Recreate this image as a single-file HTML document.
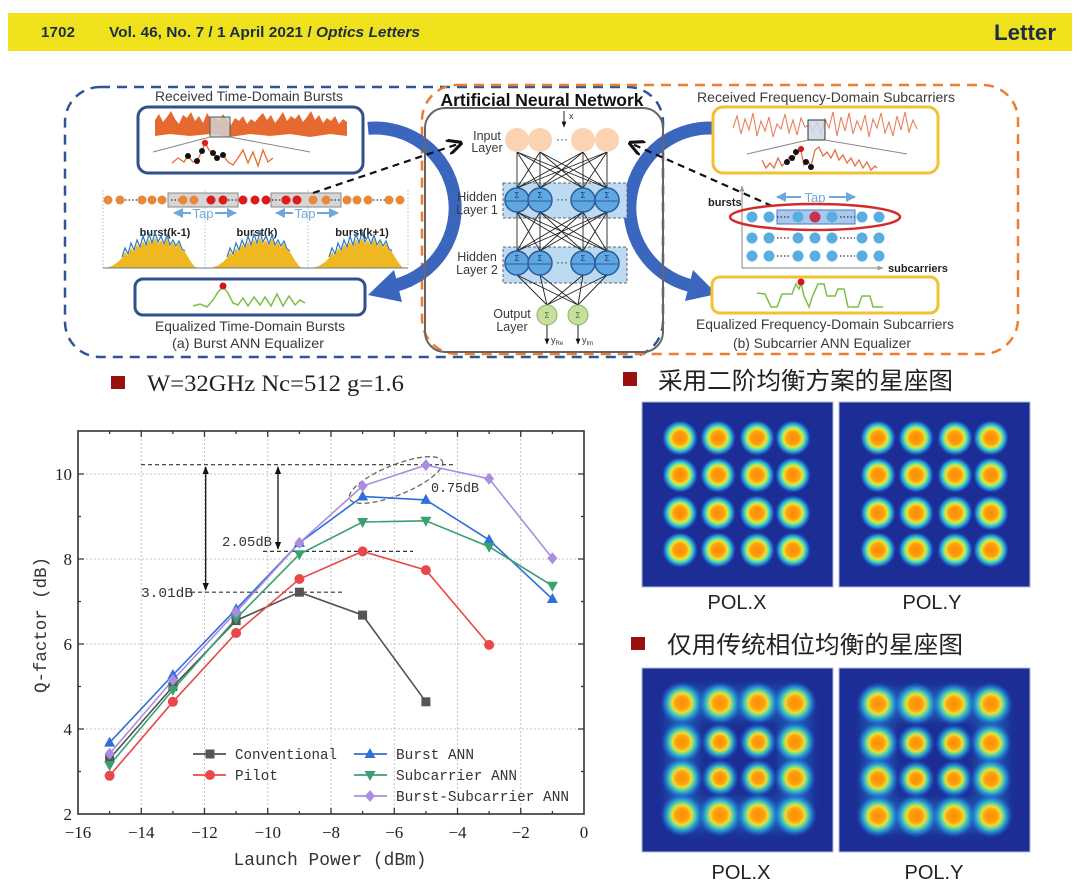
<!DOCTYPE html>
<html><head><meta charset="utf-8">
<style>
html,body{margin:0;padding:0;background:#fff;}
svg{display:block;}
</style></head><body>
<svg width="1080" height="892" viewBox="0 0 1080 892" xmlns="http://www.w3.org/2000/svg" font-family="'Liberation Sans', sans-serif">
<defs>
  <radialGradient id="b1">
    <stop offset="0" stop-color="#ff8800"/>
    <stop offset="0.36" stop-color="#ffa010"/>
    <stop offset="0.52" stop-color="#e8e632"/>
    <stop offset="0.66" stop-color="#58e0b0"/>
    <stop offset="0.82" stop-color="#28a8e8" stop-opacity="0.75"/>
    <stop offset="1" stop-color="#2050d0" stop-opacity="0"/>
  </radialGradient>
  <radialGradient id="b2">
    <stop offset="0" stop-color="#ff8c00"/>
    <stop offset="0.3" stop-color="#ffa010"/>
    <stop offset="0.45" stop-color="#e6e236"/>
    <stop offset="0.6" stop-color="#58dcb0" stop-opacity="0.9"/>
    <stop offset="0.78" stop-color="#24a4e4" stop-opacity="0.6"/>
    <stop offset="1" stop-color="#2050d0" stop-opacity="0"/>
  </radialGradient>
  <filter id="blur" x="-50%" y="-50%" width="200%" height="200%"><feGaussianBlur stdDeviation="5"/></filter>
  <marker id="mb" viewBox="0 0 10 10" refX="9" refY="5" markerWidth="5" markerHeight="5" orient="auto-start-reverse"><path d="M0,0 L10,5 L0,10 z" fill="#6fa8dc"/></marker>
  <marker id="mk" viewBox="0 0 10 10" refX="9" refY="5" markerWidth="6" markerHeight="6" orient="auto-start-reverse"><path d="M0,1 L10,5 L0,9 z" fill="#111"/></marker>
  <marker id="mg" viewBox="0 0 10 10" refX="9" refY="5" markerWidth="5" markerHeight="5" orient="auto-start-reverse"><path d="M0,1 L10,5 L0,9 z" fill="#999"/></marker>
  <marker id="mo" viewBox="0 0 10 10" refX="9" refY="5" markerWidth="7" markerHeight="7" orient="auto"><path d="M0,0 L10,5 L0,10" fill="none" stroke="#111" stroke-width="2"/></marker>
</defs>

<!-- HEADER -->
<rect x="8" y="13" width="1064" height="38" fill="#efe21c"/>
<text x="41" y="37" font-size="15" font-weight="bold" fill="#1d2d44" textLength="34">1702</text>
<text x="109" y="37" font-size="15" font-weight="bold" fill="#1d2d44" textLength="311" lengthAdjust="spacingAndGlyphs">Vol. 46, No. 7 / 1 April 2021 / <tspan font-style="italic">Optics Letters</tspan></text>
<text x="994" y="40" font-size="22" font-weight="bold" fill="#1d2d44" textLength="62" lengthAdjust="spacingAndGlyphs">Letter</text>

<!-- DIAGRAM dashed frames -->
<rect x="65" y="87" width="598" height="270" rx="35" fill="none" stroke="#2f5597" stroke-width="2.5" stroke-dasharray="10 7"/>
<rect x="422" y="85" width="596" height="269" rx="35" fill="none" stroke="#ed7d31" stroke-width="2.5" stroke-dasharray="10 7"/>

<!-- big blue arcs -->
<path d="M368,128.3 A80,80 0 0 1 395.7,285.3" fill="none" stroke="#3a66bd" stroke-width="13"/>
<polygon points="402,302 394,270 368,295" fill="#3a66bd"/>
<path d="M717,128.3 A80,80 0 0 0 689.3,285.3" fill="none" stroke="#3a66bd" stroke-width="13"/>
<polygon points="685,301 693,270 717,294" fill="#3a66bd"/>

<!-- LEFT PANEL -->
<text x="249" y="101" font-size="14" fill="#3a3a3a" text-anchor="middle" textLength="188" lengthAdjust="spacingAndGlyphs">Received Time-Domain Bursts</text>
<rect x="138" y="107" width="225" height="66" rx="10" fill="#fff" stroke="#2f4f8f" stroke-width="3"/>
<polygon fill="#e66a30" points="155,120 159,114 163,122 167,117 171,111 175,119 179,124 183,115 187,118 191,112 195,121 199,116 203,123 207,113 211,119 215,117 219,122 223,114 227,120 231,125 235,118 239,121 243,116 247,124 251,119 255,122 259,117 263,113 267,120 271,115 275,123 279,118 283,112 287,121 291,116 295,119 299,114 303,122 307,117 311,111 315,120 319,115 323,123 327,118 331,121 335,116 339,124 343,119 347,122 347,136 330,134 310,137 290,134 270,136 250,134 230,137 210,134 190,136 170,134 155,136"/>
<rect x="210" y="117" width="20" height="20" fill="#d0d0d0" fill-opacity="0.85" stroke="#555" stroke-width="1"/>
<line x1="210" y1="137" x2="153" y2="152" stroke="#888" stroke-width="1"/>
<line x1="230" y1="137" x2="310" y2="152" stroke="#888" stroke-width="1"/>
<polyline fill="none" stroke="#e66a30" stroke-width="1.3" points="172,163 178,158 184,162 188,156 193,162 197,161 202,151 205,143 209,150 213,153 217,158 223,155 228,162 233,165 238,158 243,150 248,163 253,152 258,166 263,150 268,162 273,158"/>
<g fill="#111"><circle cx="188" cy="156" r="3"/><circle cx="197" cy="161" r="3"/><circle cx="202" cy="151" r="3"/><circle cx="213" cy="153" r="3"/><circle cx="217" cy="158" r="3"/><circle cx="223" cy="155" r="3"/></g>
<circle cx="205" cy="143" r="3.2" fill="#e02020"/>

<g stroke="#b8b8b8" stroke-width="1" stroke-dasharray="1.5 2">
<line x1="103" y1="190" x2="103" y2="268"/><line x1="205" y1="190" x2="205" y2="268"/><line x1="308" y1="190" x2="308" y2="268"/><line x1="408" y1="190" x2="408" y2="268"/>
</g>
<rect x="168" y="193" width="70" height="14" fill="#d6d6d6" stroke="#888" stroke-width="1"/>
<rect x="271" y="193" width="70" height="14" fill="#d6d6d6" stroke="#888" stroke-width="1"/>
<g stroke="#333" stroke-width="1.3" stroke-dasharray="1.5 2">
<line x1="125" y1="200" x2="138" y2="200"/><line x1="171" y1="200" x2="179" y2="200"/><line x1="228" y1="200" x2="237" y2="200"/><line x1="272" y1="200" x2="281" y2="200"/><line x1="331" y1="200" x2="340" y2="200"/><line x1="373" y1="200" x2="385" y2="200"/>
</g>
<g fill="#e8893a"><circle cx="108" cy="200" r="4.5"/><circle cx="120" cy="200" r="4.5"/><circle cx="142" cy="200" r="4.5"/><circle cx="152" cy="200" r="4.5"/><circle cx="162" cy="200" r="4.5"/><circle cx="183" cy="200" r="4.5"/><circle cx="194" cy="200" r="4.5"/><circle cx="313" cy="200" r="4.5"/><circle cx="326" cy="200" r="4.5"/><circle cx="347" cy="200" r="4.5"/><circle cx="357" cy="200" r="4.5"/><circle cx="368" cy="200" r="4.5"/><circle cx="389" cy="200" r="4.5"/><circle cx="400" cy="200" r="4.5"/></g>
<g fill="#e01a1a"><circle cx="211" cy="200" r="4.5"/><circle cx="223" cy="200" r="4.5"/><circle cx="243" cy="200" r="4.5"/><circle cx="255" cy="200" r="4.5"/><circle cx="266" cy="200" r="4.5"/><circle cx="286" cy="200" r="4.5"/><circle cx="297" cy="200" r="4.5"/></g>
<g stroke="#6fa8dc" stroke-width="2" marker-end="url(#mb)">
<line x1="191" y1="213" x2="174" y2="213"/><line x1="215" y1="213" x2="236" y2="213"/>
<line x1="293" y1="213" x2="276" y2="213"/><line x1="317" y1="213" x2="338" y2="213"/>
</g>
<g font-size="13" fill="#6fa8dc" text-anchor="middle"><text x="203" y="218">Tap</text><text x="305" y="218">Tap</text></g>
<g font-size="11" font-weight="bold" fill="#222" text-anchor="middle">
<text x="165" y="236">burst(k-1)</text><text x="257" y="236">burst(k)</text><text x="362" y="236">burst(k+1)</text>
</g>
<g id="hump">
<polyline fill="none" stroke="#2f78c0" stroke-width="1.2" points="122,257 125,248 128,254 131,243 134,250 137,240 140,247 143,236 146,245 149,234 152,243 155,232 158,242 161,236 164,244 167,235 170,245 173,240 176,246 179,241 182,249 185,251"/>
<polygon fill="#f0b820" points="105,268 112,266 118,262 122,258 125,252 128,256 131,248 134,252 137,244 140,249 143,241 146,247 149,239 152,245 155,237 158,244 161,240 164,246 167,238 170,247 173,242 176,248 179,243 182,250 185,252 188,257 191,262 195,267 200,268"/>
</g>
<use href="#hump" transform="translate(105,0)"/>
<use href="#hump" transform="translate(207,0)"/>
<line x1="103" y1="268" x2="408" y2="268" stroke="#6a7a8a" stroke-width="1"/>

<rect x="135" y="279" width="230" height="36" rx="8" fill="#fff" stroke="#2f4f8f" stroke-width="3"/>
<polyline fill="none" stroke="#7ac043" stroke-width="1.5" points="193,306 200,304 207,307 213,300 218,292 223,287 228,293 233,303 238,305 243,298 248,306 254,297 260,305 265,297 271,306 277,294 283,306 289,296 295,305 300,300 305,303"/>
<circle cx="223" cy="286" r="3.5" fill="#d01818"/>
<text x="250" y="331" font-size="14" fill="#3a3a3a" text-anchor="middle" textLength="190" lengthAdjust="spacingAndGlyphs">Equalized Time-Domain Bursts</text>
<text x="248" y="348" font-size="14" fill="#3a3a3a" text-anchor="middle" textLength="152" lengthAdjust="spacingAndGlyphs">(a) Burst ANN Equalizer</text>

<!-- CENTER ANN -->
<rect x="425" y="108" width="238" height="244" rx="20" fill="none" stroke="#666" stroke-width="2"/>
<text x="542" y="106" font-size="17.5" font-weight="bold" fill="#111" text-anchor="middle" textLength="203" lengthAdjust="spacingAndGlyphs">Artificial Neural Network</text>
<rect x="503" y="183" width="124" height="35" fill="#bcdaf2" stroke="#666" stroke-width="1" stroke-dasharray="3 2"/>
<rect x="503" y="247" width="124" height="36" fill="#bcdaf2" stroke="#666" stroke-width="1" stroke-dasharray="3 2"/>
<g stroke="#222" stroke-width="0.9">
<line x1="517" y1="152" x2="517" y2="188"/><line x1="517" y1="152" x2="540" y2="188"/><line x1="517" y1="152" x2="583" y2="188"/><line x1="517" y1="152" x2="607" y2="188"/>
<line x1="540" y1="152" x2="517" y2="188"/><line x1="540" y1="152" x2="540" y2="188"/><line x1="540" y1="152" x2="583" y2="188"/><line x1="540" y1="152" x2="607" y2="188"/>
<line x1="583" y1="152" x2="517" y2="188"/><line x1="583" y1="152" x2="540" y2="188"/><line x1="583" y1="152" x2="583" y2="188"/><line x1="583" y1="152" x2="607" y2="188"/>
<line x1="607" y1="152" x2="517" y2="188"/><line x1="607" y1="152" x2="540" y2="188"/><line x1="607" y1="152" x2="583" y2="188"/><line x1="607" y1="152" x2="607" y2="188"/>
<line x1="517" y1="212" x2="517" y2="251"/><line x1="517" y1="212" x2="540" y2="251"/><line x1="517" y1="212" x2="583" y2="251"/><line x1="517" y1="212" x2="607" y2="251"/>
<line x1="540" y1="212" x2="517" y2="251"/><line x1="540" y1="212" x2="540" y2="251"/><line x1="540" y1="212" x2="583" y2="251"/><line x1="540" y1="212" x2="607" y2="251"/>
<line x1="583" y1="212" x2="517" y2="251"/><line x1="583" y1="212" x2="540" y2="251"/><line x1="583" y1="212" x2="583" y2="251"/><line x1="583" y1="212" x2="607" y2="251"/>
<line x1="607" y1="212" x2="517" y2="251"/><line x1="607" y1="212" x2="540" y2="251"/><line x1="607" y1="212" x2="583" y2="251"/><line x1="607" y1="212" x2="607" y2="251"/>
<line x1="517" y1="275" x2="547" y2="305"/><line x1="517" y1="275" x2="578" y2="305"/>
<line x1="540" y1="275" x2="547" y2="305"/><line x1="540" y1="275" x2="578" y2="305"/>
<line x1="583" y1="275" x2="547" y2="305"/><line x1="583" y1="275" x2="578" y2="305"/>
<line x1="607" y1="275" x2="547" y2="305"/><line x1="607" y1="275" x2="578" y2="305"/>
</g>
<g fill="#fbd3b3"><circle cx="517" cy="140" r="12"/><circle cx="540" cy="140" r="12"/><circle cx="583" cy="140" r="12"/><circle cx="607" cy="140" r="12"/></g>
<g fill="#5ea7e3" stroke="#2b5c99" stroke-width="1.5">
<circle cx="517" cy="200" r="12"/><circle cx="540" cy="200" r="12"/><circle cx="583" cy="200" r="12"/><circle cx="607" cy="200" r="12"/>
<circle cx="517" cy="263" r="12"/><circle cx="540" cy="263" r="12"/><circle cx="583" cy="263" r="12"/><circle cx="607" cy="263" r="12"/>
</g>
<g stroke="#2b5c99" stroke-width="1">
<line x1="506" y1="201" x2="528" y2="201"/><line x1="529" y1="201" x2="551" y2="201"/><line x1="572" y1="201" x2="594" y2="201"/><line x1="596" y1="201" x2="618" y2="201"/>
<line x1="506" y1="264" x2="528" y2="264"/><line x1="529" y1="264" x2="551" y2="264"/><line x1="572" y1="264" x2="594" y2="264"/><line x1="596" y1="264" x2="618" y2="264"/>
</g>
<g font-size="8" fill="#1a3a6a" text-anchor="middle">
<text x="517" y="198">Σ</text><text x="540" y="198">Σ</text><text x="583" y="198">Σ</text><text x="607" y="198">Σ</text>
<text x="517" y="261">Σ</text><text x="540" y="261">Σ</text><text x="583" y="261">Σ</text><text x="607" y="261">Σ</text>
</g>
<g font-size="12" fill="#333" text-anchor="middle"><text x="562" y="143">···</text><text x="562" y="203">···</text><text x="562" y="266">···</text></g>
<g fill="#c5df9e" stroke="#8ab060" stroke-width="1"><circle cx="547" cy="315" r="10"/><circle cx="578" cy="315" r="10"/></g>
<g font-size="8" fill="#4a6a2a" text-anchor="middle"><text x="547" y="318">Σ</text><text x="578" y="318">Σ</text></g>
<g stroke="#222" stroke-width="1" marker-end="url(#mk)">
<line x1="564" y1="111" x2="564" y2="127"/>
<line x1="547" y1="325" x2="547" y2="344"/><line x1="578" y1="325" x2="578" y2="344"/>
</g>
<text x="569" y="119" font-size="9" fill="#333">x</text>
<text x="551" y="343" font-size="9" fill="#333">y<tspan font-size="6" dy="2">Re</tspan></text>
<text x="582" y="343" font-size="9" fill="#333">y<tspan font-size="6" dy="2">Im</tspan></text>
<g font-size="12.5" fill="#3a3a3a" text-anchor="middle">
<text x="487" y="140">Input</text><text x="487" y="152">Layer</text>
<text x="477" y="201">Hidden</text><text x="477" y="214">Layer 1</text>
<text x="477" y="261">Hidden</text><text x="477" y="274">Layer 2</text>
<text x="512" y="318">Output</text><text x="512" y="331">Layer</text>
</g>
<line x1="313" y1="193" x2="461" y2="143" stroke="#111" stroke-width="2.2" stroke-dasharray="7 5" marker-end="url(#mo)"/>
<line x1="772" y1="206" x2="630" y2="143" stroke="#111" stroke-width="2.2" stroke-dasharray="7 5" marker-end="url(#mo)"/>

<!-- RIGHT PANEL -->
<text x="826" y="102" font-size="14" fill="#3a3a3a" text-anchor="middle" textLength="258" lengthAdjust="spacingAndGlyphs">Received  Frequency-Domain Subcarriers</text>
<rect x="713" y="107" width="225" height="66" rx="10" fill="#fff" stroke="#f2c030" stroke-width="3"/>
<polyline fill="none" stroke="#e8805a" stroke-width="1.1" points="733,128 737,116 741,134 745,119 749,130 753,113 757,136 761,121 765,131 769,117 773,137 777,124 781,129 785,114 789,133 793,120 797,135 801,118 805,127 809,125 813,131 817,122 821,134 825,119 829,128 833,112 837,136 841,117 845,131 849,113 853,134 857,121 861,130 865,115 869,137 873,119 877,128 881,113 885,133 889,122 893,136 897,116 901,130 905,112 909,132 913,120 917,129"/>
<rect x="808" y="120" width="17" height="20" fill="#cdd8ea" fill-opacity="0.85" stroke="#333" stroke-width="1"/>
<line x1="808" y1="140" x2="747" y2="154" stroke="#888" stroke-width="1"/>
<line x1="825" y1="140" x2="907" y2="154" stroke="#888" stroke-width="1"/>
<polyline fill="none" stroke="#e0704a" stroke-width="1.3" points="762,160 766,168 770,163 774,168 778,158 782,166 786,162 790,156 793,160 797,152 801,151 804,165 807,160 811,166 815,150 819,147 823,156 827,152 831,158 835,150 839,160 843,155 847,163 851,158 855,166 859,160 863,168 867,162 871,170 875,166 877,168"/>
<g fill="#111"><circle cx="792" cy="158" r="3"/><circle cx="796" cy="152" r="3"/><circle cx="806" cy="162" r="3"/><circle cx="811" cy="167" r="3"/><circle cx="787" cy="162" r="3"/></g>
<circle cx="801" cy="149" r="3" fill="#d01818"/>

<line x1="742" y1="268" x2="742" y2="186" stroke="#999" stroke-width="1.2" marker-end="url(#mg)"/>
<line x1="742" y1="268" x2="883" y2="268" stroke="#999" stroke-width="1.2" marker-end="url(#mg)"/>
<text x="708" y="206" font-size="11" font-weight="bold" fill="#222">bursts</text>
<text x="888" y="272" font-size="11" font-weight="bold" fill="#222">subcarriers</text>
<g stroke="#6fa8dc" stroke-width="2" marker-end="url(#mb)">
<line x1="801" y1="197" x2="777" y2="197"/><line x1="829" y1="197" x2="855" y2="197"/>
</g>
<text x="815" y="202" font-size="13" fill="#6fa8dc" text-anchor="middle">Tap</text>
<rect x="777" y="210" width="78" height="14" fill="#a8c8ee" stroke="#4a7ac0" stroke-width="1"/>
<g fill="#58aee0">
<circle cx="752" cy="217" r="5.5"/><circle cx="769" cy="217" r="5.5"/><circle cx="798" cy="217" r="5.5"/><circle cx="832" cy="217" r="5.5"/><circle cx="862" cy="217" r="5.5"/><circle cx="879" cy="217" r="5.5"/>
<circle cx="752" cy="238" r="5.5"/><circle cx="769" cy="238" r="5.5"/><circle cx="798" cy="238" r="5.5"/><circle cx="815" cy="238" r="5.5"/><circle cx="832" cy="238" r="5.5"/><circle cx="862" cy="238" r="5.5"/><circle cx="879" cy="238" r="5.5"/>
<circle cx="752" cy="256" r="5.5"/><circle cx="769" cy="256" r="5.5"/><circle cx="798" cy="256" r="5.5"/><circle cx="815" cy="256" r="5.5"/><circle cx="832" cy="256" r="5.5"/><circle cx="862" cy="256" r="5.5"/><circle cx="879" cy="256" r="5.5"/>
</g>
<circle cx="815" cy="217" r="5.5" fill="#c83050"/>
<g stroke="#333" stroke-width="1.3" stroke-dasharray="1.5 2">
<line x1="777" y1="217" x2="791" y2="217"/><line x1="840" y1="217" x2="855" y2="217"/>
<line x1="777" y1="238" x2="791" y2="238"/><line x1="840" y1="238" x2="855" y2="238"/>
<line x1="777" y1="256" x2="791" y2="256"/><line x1="840" y1="256" x2="855" y2="256"/>
</g>
<ellipse cx="815" cy="217" rx="85" ry="13" fill="none" stroke="#d42a2a" stroke-width="2.5"/>

<rect x="712" y="277" width="226" height="36" rx="8" fill="#fff" stroke="#f2c030" stroke-width="3"/>
<polyline fill="none" stroke="#7ac043" stroke-width="1.5" points="757,293 765,294 771,307 777,307 782,294 792,294 796,284 799,289 801,283 804,296 809,307 813,295 818,284 824,284 827,296 835,296 838,289 844,289 848,307 858,307 862,296 870,296 873,307 883,307"/>
<circle cx="801" cy="282" r="3.5" fill="#d01818"/>
<text x="825" y="329" font-size="14" fill="#3a3a3a" text-anchor="middle" textLength="258" lengthAdjust="spacingAndGlyphs">Equalized Frequency-Domain Subcarriers</text>
<text x="822" y="348" font-size="14" fill="#3a3a3a" text-anchor="middle" textLength="178" lengthAdjust="spacingAndGlyphs">(b) Subcarrier ANN Equalizer</text>

<!-- CHART TITLE -->
<rect x="111" y="376" width="14" height="13" fill="#9b0f0f"/>
<text x="147" y="391" font-family="'Liberation Serif', serif" font-size="23" fill="#222" textLength="257" lengthAdjust="spacingAndGlyphs">W=32GHz Nc=512 g=1.6</text>

<!-- CHART -->
<g stroke="#c4c4c4" stroke-width="1" stroke-dasharray="2 2">
<line x1="141.25" y1="431" x2="141.25" y2="814"/><line x1="204.5" y1="431" x2="204.5" y2="814"/><line x1="267.75" y1="431" x2="267.75" y2="814"/><line x1="331" y1="431" x2="331" y2="814"/><line x1="394.25" y1="431" x2="394.25" y2="814"/><line x1="457.5" y1="431" x2="457.5" y2="814"/><line x1="520.75" y1="431" x2="520.75" y2="814"/>
<line x1="78" y1="729" x2="584" y2="729"/><line x1="78" y1="644" x2="584" y2="644"/><line x1="78" y1="559" x2="584" y2="559"/><line x1="78" y1="474" x2="584" y2="474"/>
</g>
<rect x="78" y="431" width="506" height="383" fill="none" stroke="#333" stroke-width="1.6"/>
<path stroke="#333" stroke-width="1.3" fill="none" d="
M141.25,814v-6M204.5,814v-6M267.75,814v-6M331,814v-6M394.25,814v-6M457.5,814v-6M520.75,814v-6
M109.6,814v-3M172.9,814v-3M236.1,814v-3M299.4,814v-3M362.6,814v-3M425.9,814v-3M489.1,814v-3M552.4,814v-3
M141.25,431v6M204.5,431v6M267.75,431v6M331,431v6M394.25,431v6M457.5,431v6M520.75,431v6
M109.6,431v3M172.9,431v3M236.1,431v3M299.4,431v3M362.6,431v3M425.9,431v3M489.1,431v3M552.4,431v3
M78,729h6M78,644h6M78,559h6M78,474h6M78,771.5h3M78,686.5h3M78,601.5h3M78,516.5h3
M584,729h-6M584,644h-6M584,559h-6M584,474h-6M584,771.5h-3M584,686.5h-3M584,601.5h-3M584,516.5h-3"/>
<g font-family="'Liberation Serif', serif" font-size="17" fill="#222" text-anchor="middle">
<text x="78" y="838">−16</text><text x="141.25" y="838">−14</text><text x="204.5" y="838">−12</text><text x="267.75" y="838">−10</text><text x="331" y="838">−8</text><text x="394.25" y="838">−6</text><text x="457.5" y="838">−4</text><text x="520.75" y="838">−2</text><text x="584" y="838">0</text>
</g>
<g font-family="'Liberation Serif', serif" font-size="17" fill="#222" text-anchor="end">
<text x="72" y="820">2</text><text x="72" y="735">4</text><text x="72" y="650">6</text><text x="72" y="565">8</text><text x="72" y="480">10</text>
</g>
<text x="330" y="865" font-family="'Liberation Mono', monospace" font-size="18" fill="#333" text-anchor="middle" textLength="193" lengthAdjust="spacingAndGlyphs">Launch Power (dBm)</text>
<text transform="translate(46,625) rotate(-90)" x="0" y="0" font-family="'Liberation Mono', monospace" font-size="17.5" fill="#333" text-anchor="middle" textLength="136" lengthAdjust="spacingAndGlyphs">Q-factor (dB)</text>

<g stroke="#333" stroke-width="1.2" stroke-dasharray="4 3">
<line x1="141" y1="464.7" x2="453" y2="464.7"/>
<line x1="263" y1="551.4" x2="413" y2="551.4"/>
<line x1="191" y1="592.2" x2="344" y2="592.2"/>
</g>
<g stroke="#111" stroke-width="1.3" marker-start="url(#mk)" marker-end="url(#mk)">
<line x1="205.7" y1="467" x2="205.7" y2="590"/>
<line x1="278" y1="467" x2="278" y2="549"/>
</g>
<ellipse cx="396" cy="480" rx="50" ry="15" transform="rotate(-22 396 480)" fill="none" stroke="#666" stroke-width="1.3" stroke-dasharray="5 3"/>
<g font-family="'Liberation Mono', monospace" font-size="14" fill="#333">
<text x="431" y="492" textLength="48" lengthAdjust="spacingAndGlyphs">0.75dB</text>
<text x="222" y="546" textLength="50" lengthAdjust="spacingAndGlyphs">2.05dB</text>
<text x="141" y="597" textLength="52" lengthAdjust="spacingAndGlyphs">3.01dB</text>
</g>

<g fill="none" stroke-width="1.6">
<polyline stroke="#505050" points="109.6,758.8 172.9,686.5 236.1,620.6 299.4,592.2 362.6,615.1 425.9,701.8"/>
<polyline stroke="#e84848" points="109.6,775.8 172.9,701.8 236.1,633 299.4,579 362.6,551.4 425.9,570.1 489.1,644.9"/>
<polyline stroke="#2f6fd8" points="109.6,742.6 172.9,675 236.1,609.2 299.4,542.9 362.6,496.5 425.9,499.9 489.1,539.9 552.4,599"/>
<polyline stroke="#3aa070" points="109.6,765.1 172.9,689.9 236.1,618.5 299.4,554.3 362.6,522 425.9,520.8 489.1,546.7 552.4,585.8"/>
<polyline stroke="#a98ee0" points="109.6,753.7 172.9,680 236.1,612.1 299.4,542.9 362.6,486 425.9,465.1 489.1,478.7 552.4,558.2"/>
</g>
<g fill="#555">
<rect x="105.1" y="754.3" width="9" height="9"/><rect x="168.4" y="682" width="9" height="9"/><rect x="231.6" y="616.1" width="9" height="9"/><rect x="294.9" y="587.7" width="9" height="9"/><rect x="358.1" y="610.6" width="9" height="9"/><rect x="421.4" y="697.3" width="9" height="9"/>
</g>
<g fill="#e84848">
<circle cx="109.6" cy="775.8" r="5"/><circle cx="172.9" cy="701.8" r="5"/><circle cx="236.1" cy="633" r="5"/><circle cx="299.4" cy="579" r="5"/><circle cx="362.6" cy="551.4" r="5"/><circle cx="425.9" cy="570.1" r="5"/><circle cx="489.1" cy="644.9" r="5"/>
</g>
<g fill="#2f6fd8">
<polygon points="109.6,736.6 104.1,746.6 115.1,746.6"/><polygon points="172.9,669 167.4,679 178.4,679"/><polygon points="236.1,603.2 230.6,613.2 241.6,613.2"/><polygon points="299.4,536.9 293.9,546.9 304.9,546.9"/><polygon points="362.6,490.5 357.1,500.5 368.1,500.5"/><polygon points="425.9,493.9 420.4,503.9 431.4,503.9"/><polygon points="489.1,533.9 483.6,543.9 494.6,543.9"/><polygon points="552.4,593 546.9,603 557.9,603"/>
</g>
<g fill="#3aa070">
<polygon points="109.6,771.1 104.1,761.1 115.1,761.1"/><polygon points="172.9,695.9 167.4,685.9 178.4,685.9"/><polygon points="236.1,624.5 230.6,614.5 241.6,614.5"/><polygon points="299.4,560.3 293.9,550.3 304.9,550.3"/><polygon points="362.6,528 357.1,518 368.1,518"/><polygon points="425.9,526.8 420.4,516.8 431.4,516.8"/><polygon points="489.1,552.7 483.6,542.7 494.6,542.7"/><polygon points="552.4,591.8 546.9,581.8 557.9,581.8"/>
</g>
<g fill="#a98ee0">
<polygon points="109.6,747.7 114.6,753.7 109.6,759.7 104.6,753.7"/><polygon points="172.9,674 177.9,680 172.9,686 167.9,680"/><polygon points="236.1,606.1 241.1,612.1 236.1,618.1 231.1,612.1"/><polygon points="299.4,536.9 304.4,542.9 299.4,548.9 294.4,542.9"/><polygon points="362.6,480 367.6,486 362.6,492 357.6,486"/><polygon points="425.9,459.1 430.9,465.1 425.9,471.1 420.9,465.1"/><polygon points="489.1,472.7 494.1,478.7 489.1,484.7 484.1,478.7"/><polygon points="552.4,552.2 557.4,558.2 552.4,564.2 547.4,558.2"/>
</g>

<g stroke-width="1.8">
<line x1="193" y1="754" x2="226" y2="754" stroke="#505050"/>
<line x1="193" y1="775" x2="226" y2="775" stroke="#e84848"/>
<line x1="354" y1="754" x2="387" y2="754" stroke="#2f6fd8"/>
<line x1="354" y1="775" x2="387" y2="775" stroke="#3aa070"/>
<line x1="354" y1="796" x2="387" y2="796" stroke="#a98ee0"/>
</g>
<rect x="205.5" y="749.5" width="9" height="9" fill="#555"/>
<circle cx="210" cy="775" r="5" fill="#e84848"/>
<polygon points="370,748 364.5,758 375.5,758" fill="#2f6fd8"/>
<polygon points="370,781 364.5,771 375.5,771" fill="#3aa070"/>
<polygon points="370,790 375,796 370,802 365,796" fill="#a98ee0"/>
<g font-family="'Liberation Mono', monospace" font-size="14.5" fill="#333">
<text x="235" y="759" textLength="102" lengthAdjust="spacingAndGlyphs">Conventional</text>
<text x="235" y="780" textLength="43" lengthAdjust="spacingAndGlyphs">Pilot</text>
<text x="396" y="759" textLength="78" lengthAdjust="spacingAndGlyphs">Burst ANN</text>
<text x="396" y="780" textLength="121" lengthAdjust="spacingAndGlyphs">Subcarrier ANN</text>
<text x="396" y="801" textLength="173" lengthAdjust="spacingAndGlyphs">Burst-Subcarrier ANN</text>
</g>

<!-- CONSTELLATIONS upper -->
<rect x="623" y="372" width="14" height="14" fill="#9b0f0f"/>
<text x="658" y="389" font-family="'Liberation Sans', 'Noto Sans CJK SC', sans-serif" font-size="24" fill="#222" textLength="295" lengthAdjust="spacingAndGlyphs">采用二阶均衡方案的星座图</text>
<rect x="642" y="402" width="191" height="185" fill="#1c2e96" stroke="#b0b8d8" stroke-width="1"/>
<rect x="839" y="402" width="191" height="185" fill="#1c2e96" stroke="#b0b8d8" stroke-width="1"/>
<g id="cu1" fill="url(#b1)">
<circle cx="680" cy="438" r="18"/><circle cx="718" cy="438" r="18"/><circle cx="757" cy="438" r="18"/><circle cx="793" cy="438" r="18"/>
<circle cx="680" cy="475" r="18"/><circle cx="718" cy="475" r="18"/><circle cx="757" cy="475" r="18"/><circle cx="793" cy="475" r="18"/>
<circle cx="680" cy="513" r="18"/><circle cx="718" cy="513" r="18"/><circle cx="757" cy="513" r="18"/><circle cx="793" cy="513" r="18"/>
<circle cx="680" cy="550" r="18"/><circle cx="718" cy="550" r="18"/><circle cx="757" cy="550" r="18"/><circle cx="793" cy="550" r="18"/>
</g>
<use href="#cu1" transform="translate(198,0)"/>
<g font-size="20" fill="#222" text-anchor="middle"><text x="737" y="609">POL.X</text><text x="932" y="609">POL.Y</text></g>

<!-- CONSTELLATIONS lower -->
<rect x="631" y="637" width="14" height="13" fill="#9b0f0f"/>
<text x="667" y="653" font-family="'Liberation Sans', 'Noto Sans CJK SC', sans-serif" font-size="24" fill="#222" textLength="296" lengthAdjust="spacingAndGlyphs">仅用传统相位均衡的星座图</text>
<rect x="642" y="668" width="191" height="184" fill="#1c2e96" stroke="#b0b8d8" stroke-width="1"/>
<rect x="839" y="668" width="191" height="184" fill="#1c2e96" stroke="#b0b8d8" stroke-width="1"/>
<g id="cl1">
<rect x="682" y="703" width="113" height="112" rx="10" fill="none" stroke="#2a9ad8" stroke-width="30" stroke-opacity="0.35" filter="url(#blur)"/>
<g fill="url(#b2)">
<circle cx="682" cy="703" r="22"/><circle cx="720" cy="703" r="22"/><circle cx="758" cy="703" r="22"/><circle cx="795" cy="703" r="22"/>
<circle cx="682" cy="742" r="21"/><circle cx="720" cy="742" r="19"/><circle cx="758" cy="742" r="19"/><circle cx="795" cy="742" r="21"/>
<circle cx="682" cy="778" r="21"/><circle cx="720" cy="778" r="19"/><circle cx="758" cy="778" r="19"/><circle cx="795" cy="778" r="21"/>
<circle cx="682" cy="815" r="22"/><circle cx="720" cy="815" r="22"/><circle cx="758" cy="815" r="22"/><circle cx="795" cy="815" r="22"/>
</g>
</g>
<use href="#cl1" transform="translate(196,1)"/>
<g font-size="20" fill="#222" text-anchor="middle"><text x="741" y="879">POL.X</text><text x="934" y="879">POL.Y</text></g>
</svg>
</body></html>
